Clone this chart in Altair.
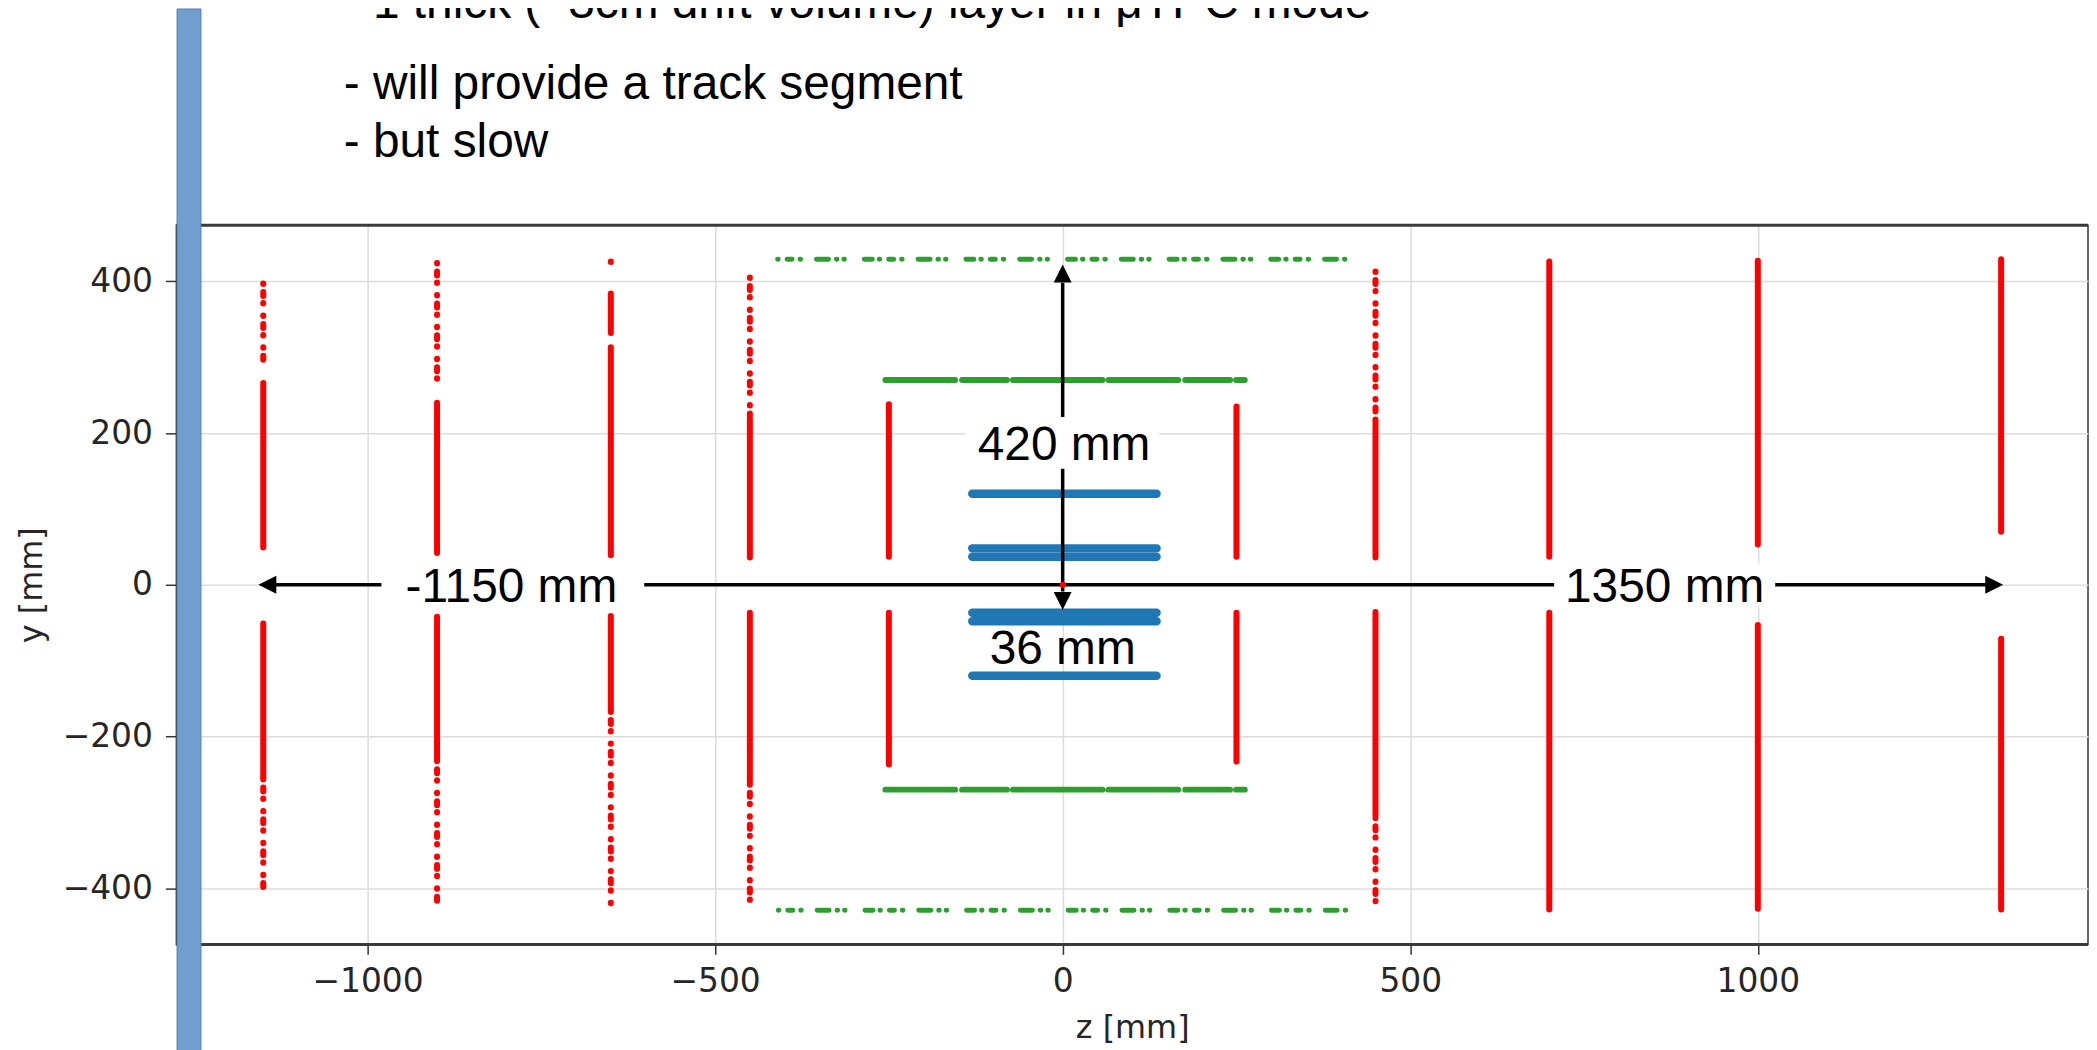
import altair as alt
import pandas as pd

# ---------------- slide text ----------------
slide_lines = [
    "- 1 thick (~3cm drift volume) layer in μTPC mode",
    "- will provide a track segment",
    "- but slow",
]

# ---------------- red layers (vertical hit strips) ----------------
red_z = [-1150, -1150, -1150, -1150,
         -900, -900, -900, -900,
         -650, -650, -650, -650, -650,
         -450, -450, -450, -450,
         -250, -250,
         250, 250,
         450, 450, 450, 450,
         700, 700,
         1000, 1000,
         1350, 1350]
red_ya = [397, 266, -51, -256,
          424, 240, -42, -232,
          426, 384, 313, -41, -167,
          405, 219, -37, -263,
          238, -37,
          235, -37,
          413, 218, -36, -307,
          426, -37,
          427, -53,
          429, -71]
red_yb = [290, 49, -254, -401,
          268, 42, -230, -424,
          416, 332, 39, -165, -428,
          223, 36, -259, -421,
          37, -237,
          37, -233,
          222, 36, -303, -417,
          37, -428,
          53, -427,
          70, -428]
red_kind = ["sparse", "dense", "dense", "sparse",
            "sparse", "dense", "dense", "sparse",
            "sparse", "dense", "dense", "dense", "sparse",
            "sparse", "dense", "dense", "sparse",
            "dense", "dense",
            "dense", "dense",
            "sparse", "dense", "dense", "sparse",
            "dense", "dense",
            "dense", "dense",
            "dense", "dense"]

# ---------------- green layers (horizontal) ----------------
green_y = [429, 270, -270, -429]
green_za = [-410, -255, -255, -409]
green_zb = [407, 262, 262, 417]
green_kind = ["sparse", "dense", "dense", "sparse"]

# ---------------- blue layers (horizontal) ----------------
blue_y = [120, 48, 37, -37, -48, -120]
blue_za = [-130, -130, -130, -130, -130, -130]
blue_zb = [135, 135, 135, 135, 135, 135]

# ---------------- annotations ----------------
arrow_z = [-1133, 0]
arrow_z2 = [1328, 0]
arrow_y = [0, -9]
arrow_y2 = [0, 398]

head_z = [-1157, 1353, 0, 0]
head_y = [0, 0, 422, -33]
head_dir = ["left", "right", "up", "down"]

box_z = [-139, -980, 707]
box_z2 = [139, -602, 1025]
box_y = [153, -30, -30]
box_y2 = [221, 28, 28]

label_text = ["420 mm", "-1150 mm", "1350 mm", "36 mm"]
label_z = [2, -793, 866, 0]
label_y = [164.5, -22.5, -22.5, -104]

origin_z = [0]
origin_y = [0]

x_ticks = [-1000, -500, 0, 500, 1000]
y_ticks = [-400, -200, 0, 200, 400]

# ---------------- chart ----------------
W, H = 1919, 722
xscale = alt.Scale(domain=[-1275, 1475], nice=False, zero=False)
yscale = alt.Scale(domain=[-474, 474], nice=False, zero=False)

xaxis = alt.Axis(values=x_ticks, format="d", title="z [mm]", grid=True, domain=False,
                 tickSize=10, tickWidth=1.5, tickColor="#333333",
                 labelFont="DejaVu Sans", labelFontSize=33, labelColor="#262626",
                 labelPadding=11, titleFont="DejaVu Sans", titleFontSize=32,
                 titleFontWeight="normal", titleColor="#262626",
                 titleX=W / 2, titleY=93, titleAlign="center", titleBaseline="alphabetic",
                 gridColor="#dcdcdc", gridWidth=1.5)
yaxis = alt.Axis(values=y_ticks, format="d", title="y [mm]", grid=True, domain=False,
                 tickSize=11, tickWidth=1.5, tickColor="#333333",
                 labelFont="DejaVu Sans", labelFontSize=33, labelColor="#262626",
                 labelPadding=13, titleFont="DejaVu Sans", titleFontSize=32,
                 titleFontWeight="normal", titleColor="#262626",
                 titleAngle=270, titleX=-135, titleY=H / 2, titleAlign="center",
                 titleBaseline="alphabetic", gridColor="#dcdcdc", gridWidth=1.5)


def X(f="z"):
    return alt.X(f, type="quantitative", scale=xscale, axis=xaxis)


def Y(f="y"):
    return alt.Y(f, type="quantitative", scale=yscale, axis=yaxis)


red_df = pd.DataFrame({"z": red_z, "y": red_ya, "y2": red_yb, "kind": red_kind})
green_df = pd.DataFrame({"z": green_za, "z2": green_zb, "y": green_y, "kind": green_kind})
blue_df = pd.DataFrame({"z": blue_za, "z2": blue_zb, "y": blue_y})
arrow_df = pd.DataFrame({"z": arrow_z, "z2": arrow_z2, "y": arrow_y, "y2": arrow_y2})
head_df = pd.DataFrame({"z": head_z, "y": head_y, "dir": head_dir})
box_df = pd.DataFrame({"z": box_z, "z2": box_z2, "y": box_y, "y2": box_y2})
label_df = pd.DataFrame({"z": label_z, "y": label_y, "t": label_text})
origin_df = pd.DataFrame({"z": origin_z, "y": origin_y})
one = pd.DataFrame({"a": [0]})

red_dense = alt.Chart(red_df).transform_filter(alt.datum.kind == "dense").mark_rule(
    color="#ff0000", strokeWidth=6, strokeCap="round").encode(x=X(), y=Y(), y2="y2:Q")
red_sparse = alt.Chart(red_df).transform_filter(alt.datum.kind == "sparse").mark_rule(
    color="#ff0000", strokeWidth=6, strokeCap="round", strokeDash=[0.5, 8, 4, 7, 0.5, 12]).encode(
    x=X(), y=Y(), y2="y2:Q")

green_dense = alt.Chart(green_df).transform_filter(alt.datum.kind == "dense").mark_rule(
    color="#2ca02c", strokeWidth=6, strokeCap="round", strokeDash=[70, 7, 45, 6, 90, 6]).encode(
    x=X(), x2="z2:Q", y=Y())
green_sparse = alt.Chart(green_df).transform_filter(alt.datum.kind == "sparse").mark_rule(
    color="#2ca02c", strokeWidth=5, strokeCap="round",
    strokeDash=[0.5, 9, 5, 8, 0.5, 16, 12, 8, 0.5, 7, 0.5, 20, 8, 7]).encode(
    x=X(), x2="z2:Q", y=Y())

blue = alt.Chart(blue_df).mark_rule(color="#1f77b4", strokeWidth=8.5, strokeCap="round").encode(
    x=X(), x2="z2:Q", y=Y())

arrows = alt.Chart(arrow_df).mark_rule(color="black", strokeWidth=3.5).encode(
    x=X(), x2="z2:Q", y=Y(), y2="y2:Q")

heads = alt.Chart(head_df).mark_point(filled=True, size=1296, opacity=1, color="black",
                                      strokeWidth=0).encode(
    x=X(), y=Y(),
    shape=alt.Shape("dir:N", legend=None, scale=alt.Scale(
        domain=["left", "right", "up", "down"],
        range=["M0,0L1,-0.5L1,0.5Z", "M0,0L-1,-0.5L-1,0.5Z",
               "M0,0L-0.5,1L0.5,1Z", "M0,0L-0.5,-1L0.5,-1Z"])))

origin = alt.Chart(origin_df).mark_circle(color="#ff0000", size=40, opacity=1).encode(x=X(), y=Y())

boxes = alt.Chart(box_df).mark_rect(color="white", opacity=1).encode(
    x=X(), x2="z2:Q", y=Y(), y2="y2:Q")

labels = alt.Chart(label_df).mark_text(font="Liberation Sans", fontSize=48, color="black",
                                       align="center", baseline="alphabetic").encode(
    x=X(), y=Y(), text="t:N")

frame_top = alt.Chart(one).mark_rule(color="#3a3a3a", strokeWidth=3).encode(
    x=alt.value(0), x2=alt.value(W), y=alt.value(0))
frame_bot = alt.Chart(one).mark_rule(color="#3a3a3a", strokeWidth=3).encode(
    x=alt.value(0), x2=alt.value(W), y=alt.value(H))

bar = alt.Chart(one).mark_rect(color="#729ece", stroke="#4f81bd", strokeWidth=1).encode(
    x=alt.value(0.7), x2=alt.value(24.7), y=alt.value(-217), y2=alt.value(830))

slide_y = [-208, -126.5, -68.3]
slide_layers = []
for line, yy in zip(slide_lines, slide_y):
    slide_layers.append(
        alt.Chart(pd.DataFrame({"t": [line]})).mark_text(
            font="Liberation Sans", fontSize=48, color="black", align="left",
            baseline="alphabetic").encode(text="t:N", x=alt.value(168), y=alt.value(yy)))

chart = alt.layer(
    red_dense, red_sparse, green_dense, green_sparse, blue, arrows, heads, origin,
    boxes, labels, frame_top, frame_bot, bar, *slide_layers
).properties(
    width=W, height=H,
    autosize=alt.AutoSizeParams(type="none"),
    padding={"left": 169, "top": 216, "right": 1, "bottom": 104},
    background="white",
).configure_view(stroke="#333333", strokeWidth=1.5)

chart.save("out.html", embed_options={"renderer": "svg", "actions": False})
